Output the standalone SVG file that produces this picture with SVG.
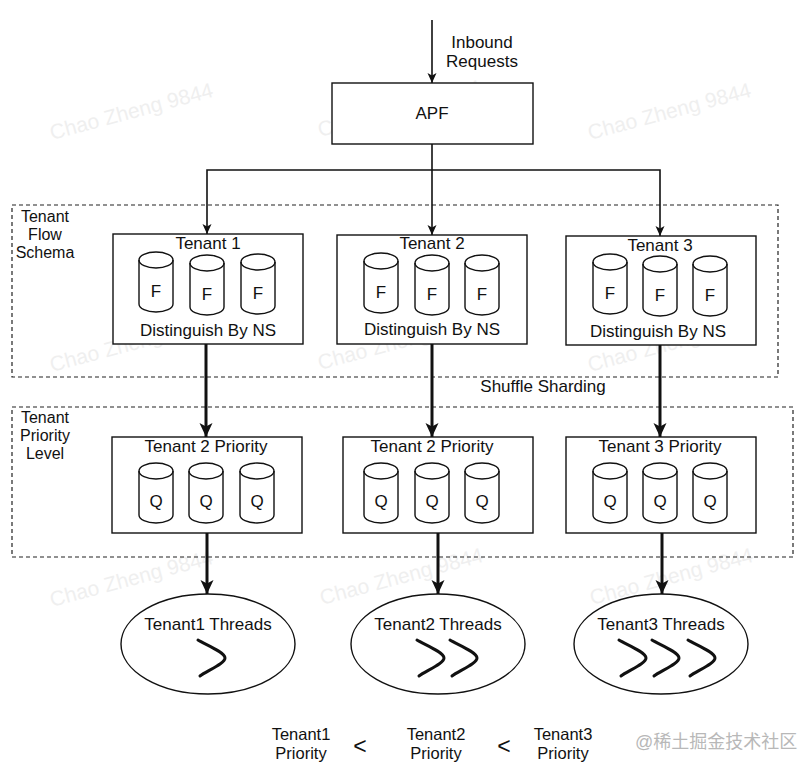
<svg xmlns="http://www.w3.org/2000/svg" xmlns:xlink="http://www.w3.org/1999/xlink" width="806" height="772" viewBox="0 0 806 772">
<style>
text{font-family:"Liberation Sans",Arial,sans-serif;fill:#111;}
.t{font-size:17px;text-anchor:middle;}
.b{font-size:16.5px;text-anchor:middle;}
.lbl{font-size:16px;text-anchor:middle;}
.wm{font-size:21px;fill:#efefef;}
.box{fill:#fff;stroke:#111;stroke-width:1.4;}
.grp{fill:none;stroke:#222;stroke-width:1.2;stroke-dasharray:4 3;}
.thin{fill:none;stroke:#111;stroke-width:1.6;}
.thick{fill:none;stroke:#111;stroke-width:3;}
.thr{fill:none;stroke:#111;stroke-width:3;stroke-linecap:round;stroke-linejoin:round;}
.cylb{fill:#fff;stroke:#111;stroke-width:1.4;}
.cyll{fill:none;stroke:#111;stroke-width:1.4;}
</style>
<defs>
<marker id="arT" viewBox="0 0 10 10" markerWidth="10" markerHeight="10" refX="10" refY="5" orient="auto" markerUnits="userSpaceOnUse">
<path d="M0,0.5 L10,5 L0,9.5 L2.5,5 Z" fill="#111"/>
</marker>
<marker id="arK" viewBox="0 0 14 14" markerWidth="14" markerHeight="14" refX="14" refY="7" orient="auto" markerUnits="userSpaceOnUse">
<path d="M0,0.5 L14,7 L0,13.5 L3.5,7 Z" fill="#111"/>
</marker>
<g id="cyl">
<path class="cylb" d="M0,8 A17,8 0 0 1 34,8 V52 A17,8 0 0 1 0,52 Z"/>
<path class="cyll" d="M0,8 A17,8 0 0 0 34,8"/>
</g>
<path id="thr" class="thr" d="M0,0 C6,4 27,12 27,18 C27,24 8,31 2,36"/>
</defs>
<rect width="806" height="772" fill="#fff"/>

<g id="watermarks">
<text class="wm" x="52" y="140" transform="rotate(-15 52 140)">Chao Zheng 9844</text>
<text class="wm" x="320" y="137" transform="rotate(-15 320 137)">Chao Zheng 9844</text>
<text class="wm" x="590" y="140" transform="rotate(-15 590 140)">Chao Zheng 9844</text>
<text class="wm" x="52" y="372" transform="rotate(-15 52 372)">Chao Zheng 9844</text>
<text class="wm" x="320" y="370" transform="rotate(-15 320 370)">Chao Zheng 9844</text>
<text class="wm" x="590" y="372" transform="rotate(-15 590 372)">Chao Zheng 9844</text>
<text class="wm" x="52" y="607" transform="rotate(-15 52 607)">Chao Zheng 9844</text>
<text class="wm" x="322" y="605" transform="rotate(-15 322 605)">Chao Zheng 9844</text>
<text class="wm" x="592" y="605" transform="rotate(-15 592 605)">Chao Zheng 9844</text>
</g>

<g id="group-flow-schema">
<rect class="grp" x="12" y="205" width="766" height="172"/>
<text class="lbl" x="45" y="222">Tenant</text>
<text class="lbl" x="45" y="240">Flow</text>
<text class="lbl" x="45" y="258">Schema</text>
<text class="t" x="543" y="392">Shuffle Sharding</text>
</g>
<g id="group-priority-level">
<rect class="grp" x="12" y="407" width="781" height="150"/>
<text class="lbl" x="45" y="423">Tenant</text>
<text class="lbl" x="45" y="441">Priority</text>
<text class="lbl" x="45" y="459">Level</text>
</g>

<g id="connectors">
<line class="thin" x1="432" y1="20" x2="432" y2="83" marker-end="url(#arT)"/>
<line class="thin" x1="432" y1="144" x2="432" y2="235" marker-end="url(#arT)"/>
<polyline class="thin" points="432,170 207,170 207,234" marker-end="url(#arT)"/>
<polyline class="thin" points="432,170 660,170 660,236" marker-end="url(#arT)"/>
<line class="thick" x1="206" y1="344" x2="206" y2="437" marker-end="url(#arK)"/>
<line class="thick" x1="432" y1="344" x2="432" y2="437" marker-end="url(#arK)"/>
<line class="thick" x1="660" y1="345" x2="660" y2="437" marker-end="url(#arK)"/>
<line class="thick" x1="207" y1="533" x2="207" y2="594" marker-end="url(#arK)"/>
<line class="thick" x1="438" y1="533" x2="438" y2="594" marker-end="url(#arK)"/>
<line class="thick" x1="662" y1="533" x2="662" y2="594" marker-end="url(#arK)"/>
</g>

<g id="inbound-label">
<text class="t" x="482" y="48">Inbound</text>
<text class="t" x="482" y="67">Requests</text>
</g>

<g id="apf">
<rect class="box" x="332" y="83" width="201" height="61"/>
<text class="t" x="432" y="119">APF</text>
</g>

<g id="tenant1">
<rect class="box" x="113" y="234" width="190" height="110"/>
<text class="t" x="208" y="249">Tenant 1</text>
<use xlink:href="#cyl" x="139" y="252"/>
<use xlink:href="#cyl" x="190" y="255"/>
<use xlink:href="#cyl" x="241" y="254"/>
<text class="t" x="156" y="297">F</text>
<text class="t" x="207" y="300">F</text>
<text class="t" x="258" y="299">F</text>
<text class="t" x="208" y="336">Distinguish By NS</text>
</g>

<g id="tenant2">
<rect class="box" x="337" y="235" width="190" height="109"/>
<text class="t" x="432" y="249">Tenant 2</text>
<use xlink:href="#cyl" x="364" y="253"/>
<use xlink:href="#cyl" x="415" y="255"/>
<use xlink:href="#cyl" x="465" y="255"/>
<text class="t" x="381" y="298">F</text>
<text class="t" x="432" y="300">F</text>
<text class="t" x="482" y="300">F</text>
<text class="t" x="432" y="335">Distinguish By NS</text>
</g>

<g id="tenant3">
<rect class="box" x="566" y="236" width="190" height="109"/>
<text class="t" x="660" y="251">Tenant 3</text>
<use xlink:href="#cyl" x="593" y="254"/>
<use xlink:href="#cyl" x="643" y="256"/>
<use xlink:href="#cyl" x="693" y="256"/>
<text class="t" x="610" y="299">F</text>
<text class="t" x="660" y="301">F</text>
<text class="t" x="710" y="301">F</text>
<text class="t" x="658" y="337">Distinguish By NS</text>
</g>

<g id="priority1">
<rect class="box" x="112" y="437" width="190" height="96"/>
<text class="t" x="206" y="452">Tenant 2 Priority</text>
<use xlink:href="#cyl" x="139" y="463"/>
<use xlink:href="#cyl" x="189" y="463"/>
<use xlink:href="#cyl" x="240" y="463"/>
<text class="t" x="156" y="507">Q</text>
<text class="t" x="206" y="507">Q</text>
<text class="t" x="257" y="507">Q</text>
</g>

<g id="priority2">
<rect class="box" x="343" y="437" width="190" height="96"/>
<text class="t" x="432" y="452">Tenant 2 Priority</text>
<use xlink:href="#cyl" x="364" y="463"/>
<use xlink:href="#cyl" x="415" y="463"/>
<use xlink:href="#cyl" x="465" y="463"/>
<text class="t" x="381" y="507">Q</text>
<text class="t" x="432" y="507">Q</text>
<text class="t" x="482" y="507">Q</text>
</g>

<g id="priority3">
<rect class="box" x="566" y="437" width="190" height="96"/>
<text class="t" x="660" y="452">Tenant 3 Priority</text>
<use xlink:href="#cyl" x="593" y="463"/>
<use xlink:href="#cyl" x="643" y="463"/>
<use xlink:href="#cyl" x="693" y="463"/>
<text class="t" x="610" y="507">Q</text>
<text class="t" x="660" y="507">Q</text>
<text class="t" x="710" y="507">Q</text>
</g>

<g id="threads1">
<ellipse class="box" cx="208" cy="644" rx="87" ry="50"/>
<text class="t" x="208" y="630">Tenant1 Threads</text>
<use xlink:href="#thr" x="198" y="640"/>
</g>

<g id="threads2">
<ellipse class="box" cx="438" cy="644" rx="87" ry="50"/>
<text class="t" x="438" y="630">Tenant2 Threads</text>
<use xlink:href="#thr" x="417" y="640"/>
<use xlink:href="#thr" x="450" y="640"/>
</g>

<g id="threads3">
<ellipse class="box" cx="661" cy="644" rx="87" ry="50"/>
<text class="t" x="661" y="630">Tenant3 Threads</text>
<use xlink:href="#thr" x="619" y="640"/>
<use xlink:href="#thr" x="652" y="640"/>
<use xlink:href="#thr" x="688" y="640"/>
</g>

<g id="priority-order">
<text class="b" x="301" y="740">Tenant1</text>
<text class="b" x="301" y="759">Priority</text>
<text x="360" y="754" style="font-size:23px;text-anchor:middle">&lt;</text>
<text class="b" x="436" y="740">Tenant2</text>
<text class="b" x="436" y="759">Priority</text>
<text x="504" y="754" style="font-size:23px;text-anchor:middle">&lt;</text>
<text class="b" x="563" y="740">Tenant3</text>
<text class="b" x="563" y="759">Priority</text>
</g>

<text x="635" y="748" style="font-family:'Liberation Sans','Noto Sans CJK SC',sans-serif;font-size:18px;fill:#b8b8b8">@稀土掘金技术社区</text>
</svg>
